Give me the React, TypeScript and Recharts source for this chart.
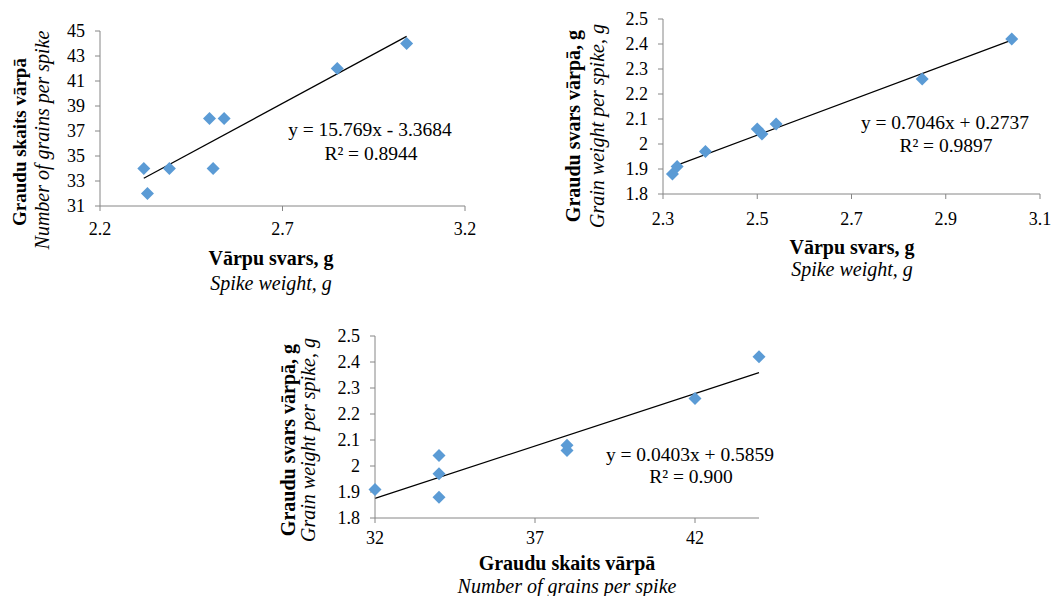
import { ScatterChart, Scatter, XAxis, YAxis, ReferenceLine } from "recharts"

// Eight samples, same order in all three arrays
const spikeWeight = [2.32, 2.33, 2.39, 2.5, 2.51, 2.54, 2.85, 3.04]
const grainsPerSpike = [34, 32, 34, 38, 34, 38, 42, 44]
const grainWeight = [1.88, 1.91, 1.97, 2.06, 2.04, 2.08, 2.26, 2.42]

// trendline coefficients as printed on the charts
const fit1 = { a: 15.769, b: -3.3684, text: "y = 15.769x - 3.3684", r2: "R² = 0.8944" }
const fit2 = { a: 0.7046, b: 0.2737, text: "y = 0.7046x + 0.2737", r2: "R² = 0.9897" }
const fit3 = { a: 0.0403, b: 0.5859, text: "y = 0.0403x + 0.5859", r2: "R² = 0.900" }

const ticks1X = [2.2, 2.7, 3.2]
const ticks1Y = [31, 33, 35, 37, 39, 41, 43, 45]
const ticks2X = [2.3, 2.5, 2.7, 2.9, 3.1]
const ticksWeightY = [1.8, 1.9, 2, 2.1, 2.2, 2.3, 2.4, 2.5]
const ticks3X = [32, 37, 42]

const FONT = "Liberation Serif, Tinos, Times New Roman, DejaVu Serif, serif"
const AXIS = "#868686"
const BLUE = "#5B9BD5"

const pairs = (xs: number[], ys: number[]) => xs.map((x, i) => ({ x, y: ys[i] }))

const Diamond = (props: any) => {
  const { cx, cy } = props
  const r = 6.5
  return <polygon points={`${cx},${cy - r} ${cx + r},${cy} ${cx},${cy + r} ${cx - r},${cy}`} fill={BLUE} />
}

const tickStyle = { fill: "#000", fontSize: 18, fontFamily: FONT }

type PanelProps = {
  left: number
  top: number
  width: number
  height: number
  margin: { top: number; right: number; bottom: number; left: number }
  yWidth: number
  xTickMargin: number
  xDomain: [number, number]
  yDomain: [number, number]
  xTicks: number[]
  yTicks: number[]
  data: { x: number; y: number }[]
  fit: { a: number; b: number }
}

function Panel(p: PanelProps) {
  const xs = p.data.map((d) => d.x)
  const x0 = Math.min(...xs)
  const x1 = Math.max(...xs)
  return (
    <div style={{ position: "absolute", left: p.left, top: p.top }}>
      <ScatterChart width={p.width} height={p.height} margin={p.margin} style={{ fontFamily: FONT }}>
        <XAxis
          type="number"
          dataKey="x"
          domain={p.xDomain}
          ticks={p.xTicks}
          interval={0}
          stroke={AXIS}
          tickSize={5}
          tickMargin={p.xTickMargin}
          tick={tickStyle}
          height={30}
        />
        <YAxis
          type="number"
          dataKey="y"
          domain={p.yDomain}
          ticks={p.yTicks}
          interval={0}
          stroke={AXIS}
          tickSize={5}
          tickMargin={10}
          tick={tickStyle}
          width={p.yWidth}
        />
        <Scatter data={p.data} shape={Diamond} isAnimationActive={false} />
        <ReferenceLine
          segment={[
            { x: x0, y: p.fit.a * x0 + p.fit.b },
            { x: x1, y: p.fit.a * x1 + p.fit.b },
          ]}
          stroke="#000"
          strokeWidth={1.2}
          ifOverflow="visible"
        />
      </ScatterChart>
    </div>
  )
}

const txt = (x: number, y: number, s: string, extra: any = {}) => (
  <div
    style={{
      position: "absolute",
      left: x,
      top: y,
      transform: "translate(-50%, -50%)",
      whiteSpace: "nowrap",
      fontFamily: FONT,
      fontSize: 20,
      color: "#000",
      lineHeight: 1,
      ...extra,
    }}
  >
    {s}
  </div>
)

const vtxt = (x: number, y: number, s: string, extra: any = {}) =>
  txt(x, y, s, { transform: "translate(-50%, -50%) rotate(-90deg)", ...extra })

export default function App() {
  return (
    <div style={{ position: "absolute", left: 0, top: 0, width: 1053, height: 596, background: "#fff" }}>
      <Panel
        left={0}
        top={0}
        width={480}
        height={300}
        margin={{ top: 31, right: 15, bottom: 64, left: 0 }}
        yWidth={100}
        xTickMargin={11}
        xDomain={[2.2, 3.2]}
        yDomain={[31, 45]}
        xTicks={ticks1X}
        yTicks={ticks1Y}
        data={pairs(spikeWeight, grainsPerSpike)}
        fit={fit1}
      />
      <Panel
        left={530}
        top={0}
        width={523}
        height={300}
        margin={{ top: 19, right: 13, bottom: 76, left: 0 }}
        yWidth={133}
        xTickMargin={13}
        xDomain={[2.3, 3.1]}
        yDomain={[1.8, 2.5]}
        xTicks={ticks2X}
        yTicks={ticksWeightY}
        data={pairs(spikeWeight, grainWeight)}
        fit={fit2}
      />
      <Panel
        left={260}
        top={320}
        width={540}
        height={276}
        margin={{ top: 16, right: 41, bottom: 48, left: 0 }}
        yWidth={115}
        xTickMargin={8}
        xDomain={[32, 44]}
        yDomain={[1.8, 2.5]}
        xTicks={ticks3X}
        yTicks={ticksWeightY}
        data={pairs(grainsPerSpike, grainWeight)}
        fit={fit3}
      />

      {/* chart 1 titles */}
      {txt(271, 258, "Vārpu svars, g", { fontWeight: "bold" })}
      {txt(271, 283, "Spike weight, g", { fontStyle: "italic" })}
      {vtxt(19, 142, "Graudu skaits vārpā", { fontWeight: "bold", fontSize: 19 })}
      {vtxt(42, 140, "Number of grains per spike", { fontStyle: "italic" })}
      {txt(370, 130, fit1.text, { fontSize: 19.5 })}
      {txt(371, 154, fit1.r2, { fontSize: 19.5 })}

      {/* chart 2 titles */}
      {txt(852, 247, "Vārpu svars, g", { fontWeight: "bold" })}
      {txt(852, 269, "Spike weight, g", { fontStyle: "italic" })}
      {vtxt(573, 126, "Graudu svars vārpā, g", { fontWeight: "bold" })}
      {vtxt(597, 126, "Grain weight per spike, g", { fontStyle: "italic" })}
      {txt(945, 123, fit2.text, { fontSize: 19.5 })}
      {txt(946, 146, fit2.r2, { fontSize: 19.5 })}

      {/* chart 3 titles */}
      {txt(567, 563, "Graudu skaits vārpā", { fontWeight: "bold" })}
      {txt(567, 586, "Number of grains per spike", { fontStyle: "italic" })}
      {vtxt(288, 440, "Graudu svars vārpā, g", { fontWeight: "bold" })}
      {vtxt(308, 440, "Grain weight per spike, g", { fontStyle: "italic" })}
      {txt(690, 455, fit3.text, { fontSize: 19.5 })}
      {txt(691, 477, fit3.r2, { fontSize: 19.5 })}
    </div>
  )
}
